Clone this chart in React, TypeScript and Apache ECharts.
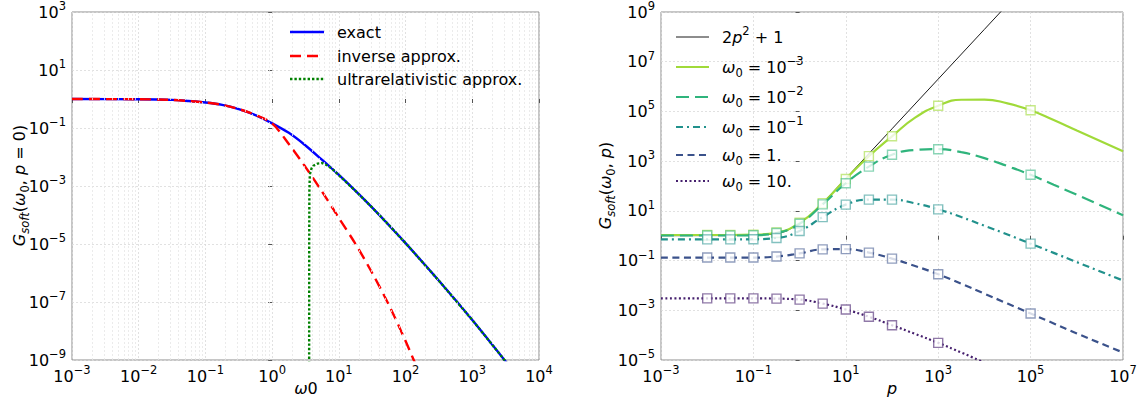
import React, { useEffect, useRef } from 'react';
import * as echarts from 'echarts';

const FONT = 'DejaVu Sans';

// ---------------- Left panel: G_soft(ω0, p = 0) ----------------
const leftXExponents = [-3, -2, -1, 0, 1, 2, 3, 4];
const leftYExponents = [-9, -7, -5, -3, -1, 1, 3];

const exactOmega = [1e-3, 1e-2, 0.0316, 0.0562, 0.1, 0.178, 0.316, 0.562, 1, 1.778, 3.162, 5.623, 10, 17.78, 31.62, 56.23, 100, 316.2, 1000, 3162, 3981];
const exactG = [1.0, 0.98, 0.93, 0.85, 0.76, 0.63, 0.45, 0.28, 0.145, 0.068, 0.025, 7.9e-3, 2.4e-3, 6.8e-4, 1.8e-4, 4.5e-5, 1.07e-5, 5.4e-7, 2.4e-8, 8.9e-10, 4.3e-10];

const inverseOmega = [1e-3, 1e-2, 0.0316, 0.0562, 0.1, 0.178, 0.316, 0.562, 1, 1.778, 3.162, 5.623, 10, 17.78, 31.62, 56.23, 100, 177.8];
const inverseG = [1.0, 0.98, 0.93, 0.85, 0.76, 0.63, 0.45, 0.28, 0.145, 0.028, 4.5e-3, 6.3e-4, 7.9e-5, 1.0e-5, 1.0e-6, 7.9e-8, 4.5e-9, 2.0e-10];

const ultraOmega = [3.581, 3.594, 3.614, 3.673, 3.89, 4.15, 4.786, 5.559, 6.761, 8.318, 10, 17.78, 31.62, 56.23, 100, 316.2, 1000, 3162, 3981];
const ultraG = [1e-12, 1e-5, 6.3e-4, 2.5e-3, 4.0e-3, 5.0e-3, 5.9e-3, 6.2e-3, 5.1e-3, 3.5e-3, 2.35e-3, 6.8e-4, 1.8e-4, 4.5e-5, 1.07e-5, 5.4e-7, 2.4e-8, 8.9e-10, 4.3e-10];

// ---------------- Right panel: G_soft(ω0, p) ----------------
const rightXExponents = [-3, -1, 1, 3, 5, 7];
const rightYExponents = [-5, -3, -1, 1, 3, 5, 7, 9];

const parabolaP = [1e-3, 0.1, 0.316, 0.5, 1, 1.5, 2, 3.162, 10, 100, 1000, 1e4, 1e5];
const parabolaG = [1, 1.02, 1.2, 1.5, 3, 5.5, 9, 21, 201, 20001, 2000001, 200000001, 2e10];

const pCurve = [1e-3, 1e-2, 0.0316, 0.1, 0.316, 1, 3.162, 10, 31.62, 100, 316.2, 1000, 3162, 1e4, 31623, 1e5, 316228, 1e6, 1e7];
const pMarkers = [1e-2, 0.0316, 0.1, 0.316, 1, 3.162, 10, 31.62, 100, 1000, 1e5];

const gOmega1em3 = [1.07, 1.07, 1.07, 1.1, 1.35, 3.31, 20.4, 190, 1585, 1.0e4, 5.6e4, 1.7e5, 2.95e5, 3.0e5, 2.1e5, 1.12e5, 4.5e4, 1.7e4, 2.5e3];
const gOmega1em2 = [1.02, 1.02, 1.02, 1.05, 1.29, 3.02, 18.2, 129, 602, 1820, 2818, 3020, 2291, 1318, 631, 282, 112, 44.7, 6.6];
const gOmega1em1 = [0.714, 0.714, 0.714, 0.724, 0.813, 1.55, 5.62, 17.8, 28.2, 28.2, 20.0, 11.5, 5.62, 2.51, 1.12, 0.479, 0.204, 0.087, 0.0158];
const gOmega1 = [0.132, 0.132, 0.132, 0.132, 0.145, 0.195, 0.282, 0.288, 0.209, 0.12, 0.0603, 0.0282, 0.0117, 4.68e-3, 1.86e-3, 7.41e-4, 2.95e-4, 1.17e-4, 2.0e-5];
const gOmega10 = [3.02e-3, 3.02e-3, 3.02e-3, 3.02e-3, 2.95e-3, 2.69e-3, 1.86e-3, 1.07e-3, 5.5e-4, 2.51e-4, 1.12e-4, 4.9e-5, 2.0e-5, 7.8e-6, null, null, null, null, null];

const MINUS = '\u2212';
const expStr = (v: number) => (v < 0 ? MINUS + Math.abs(v) : String(v));

const log = (v: number) => Math.log10(v);
const toXY = (xs: number[], ys: (number | null)[]) =>
  xs
    .map((x, i) => (ys[i] == null ? null : [log(x), log(ys[i] as number)]))
    .filter((d) => d !== null) as number[][];
const markersOf = (ys: (number | null)[]) =>
  pMarkers
    .map((p) => {
      const i = pCurve.indexOf(p);
      const y = ys[i];
      return y == null ? null : [log(p), log(y)];
    })
    .filter((d) => d !== null) as number[][];

const tickRich = {
  n: { fontSize: 16, fontFamily: FONT, color: '#000', lineHeight: 24, verticalAlign: 'middle' },
  s: { fontSize: 11.5, fontFamily: FONT, color: '#000', lineHeight: 12, verticalAlign: 'top' },
};
const tickFmt = (v: number) => `{n|10}{s|${expStr(v)}}`;

const textRich = {
  n: { fontSize: 16, fontFamily: FONT, color: '#000', lineHeight: 24, verticalAlign: 'middle' },
  i: { fontSize: 16, fontFamily: FONT, fontStyle: 'italic', color: '#000', lineHeight: 24, verticalAlign: 'middle' },
  s: { fontSize: 11.5, fontFamily: FONT, color: '#000', lineHeight: 12, verticalAlign: 'top' },
  b: { fontSize: 11.5, fontFamily: FONT, color: '#000', lineHeight: 12, verticalAlign: 'bottom' },
  bi: { fontSize: 11.5, fontFamily: FONT, fontStyle: 'italic', color: '#000', lineHeight: 12, verticalAlign: 'bottom' },
};

const GRID_COLOR = '#d9d9d9';
const SPINE = '#8c8c8c';

function makeXAxis(gridIndex: number, exps: number[], interval: number) {
  return {
    type: 'value',
    gridIndex,
    min: exps[0],
    max: exps[exps.length - 1],
    interval,
    axisLine: { show: false },
    axisTick: { show: true, length: 4, lineStyle: { color: '#555', width: 1 } },
    axisLabel: { formatter: tickFmt, rich: tickRich, margin: 4, showMinLabel: true, showMaxLabel: true },
    splitLine: { show: true, lineStyle: { color: GRID_COLOR, width: 0.8, type: [2, 2] } },
  };
}
function makeYAxis(gridIndex: number, exps: number[], interval: number) {
  return {
    type: 'value',
    gridIndex,
    min: exps[0],
    max: exps[exps.length - 1],
    interval,
    axisLine: { show: false },
    axisTick: { show: true, length: 4, lineStyle: { color: '#555', width: 1 } },
    axisLabel: { formatter: tickFmt, rich: tickRich, margin: 6, showMinLabel: true, showMaxLabel: true },
    splitLine: { show: true, lineStyle: { color: GRID_COLOR, width: 0.8, type: [2, 2] } },
  };
}

const minorX: number[] = [];
for (let e = leftXExponents[0]; e < leftXExponents[leftXExponents.length - 1]; e++) {
  for (let k = 2; k <= 9; k++) minorX.push(e + Math.log10(k));
}

const rightStyles = [
  { name: 'w3', ys: gOmega1em3, color: '#a0da39', edge: 'rgba(160,218,57,0.75)', dash: 'solid' as any, width: 2.2 },
  { name: 'w2', ys: gOmega1em2, color: '#2fb47c', edge: 'rgba(47,180,124,0.7)', dash: [13, 6], width: 2.2 },
  { name: 'w1', ys: gOmega1em1, color: '#21918c', edge: 'rgba(33,145,140,0.7)', dash: [7, 4, 2, 4], width: 2.2 },
  { name: 'w0', ys: gOmega1, color: '#3b528b', edge: 'rgba(59,82,139,0.7)', dash: [7, 4.5], width: 2.2 },
  { name: 'w10', ys: gOmega10, color: '#46206e', edge: 'rgba(70,32,110,0.75)', dash: [2, 2.5], width: 2.2 },
];

function buildOption() {
  const series: any[] = [];
  // minor grid (left panel)
  series.push({
    type: 'line',
    xAxisIndex: 0,
    yAxisIndex: 0,
    data: [],
    silent: true,
    z: 1,
    markLine: {
      silent: true,
      symbol: ['none', 'none'],
      label: { show: false },
      animation: false,
      lineStyle: { color: '#e6e6e6', width: 0.8, type: [2, 2] },
      data: minorX.map((v) => ({ xAxis: v })),
    },
  });
  series.push({
    type: 'line', xAxisIndex: 0, yAxisIndex: 0, data: toXY(exactOmega, exactG), symbol: 'none', smooth: 0.3,
    lineStyle: { color: '#0000ff', width: 2.4 }, z: 3,
  });
  series.push({
    type: 'line', xAxisIndex: 0, yAxisIndex: 0, data: toXY(inverseOmega, inverseG), symbol: 'none', smooth: 0.3,
    lineStyle: { color: '#ff0000', width: 2.4, type: [11, 6] }, z: 4,
  });
  series.push({
    type: 'line', xAxisIndex: 0, yAxisIndex: 0, data: toXY(ultraOmega, ultraG), symbol: 'none', smooth: false,
    lineStyle: { color: '#008000', width: 2.4, type: [2.4, 2] }, z: 5,
  });

  // right panel
  series.push({
    type: 'line', xAxisIndex: 1, yAxisIndex: 1, data: toXY(parabolaP, parabolaG), symbol: 'none', smooth: false,
    lineStyle: { color: '#1a1a1a', width: 1 }, z: 3,
  });
  rightStyles.forEach((s, k) => {
    series.push({
      type: 'line', xAxisIndex: 1, yAxisIndex: 1, data: toXY(pCurve, s.ys), symbol: 'none', smooth: 0.5,
      lineStyle: { color: s.color, width: s.width, type: s.dash }, z: 4 + k * 2,
    });
    series.push({
      type: 'scatter', xAxisIndex: 1, yAxisIndex: 1, data: markersOf(s.ys), symbol: 'rect', symbolSize: 9,
      itemStyle: { color: '#ffffff', borderColor: s.edge, borderWidth: 1.4 }, z: 5 + k * 2,
    });
  });

  const legendLeft = [
    { text: '{n|exact}', color: '#0000ff', dash: null, y: 32 },
    { text: '{n|inverse approx.}', color: '#ff0000', dash: [11, 6], y: 56 },
    { text: '{n|ultrarelativistic approx.}', color: '#008000', dash: [2.4, 2], y: 79 },
  ];
  const legendRight = [
    { text: '{n|2}{i|p}{s|2}{n| + 1}', color: '#1a1a1a', dash: null, y: 37, w: 1 },
    { text: `{i|ω}{b|0}{n| = 10}{s|${MINUS}3}`, color: rightStyles[0].color, dash: null, y: 67, w: 2.2 },
    { text: `{i|ω}{b|0}{n| = 10}{s|${MINUS}2}`, color: rightStyles[1].color, dash: rightStyles[1].dash, y: 97, w: 2.2 },
    { text: `{i|ω}{b|0}{n| = 10}{s|${MINUS}1}`, color: rightStyles[2].color, dash: rightStyles[2].dash, y: 127, w: 2.2 },
    { text: '{i|ω}{b|0}{n| = 1.}', color: rightStyles[3].color, dash: rightStyles[3].dash, y: 155, w: 2.2 },
    { text: '{i|ω}{b|0}{n| = 10.}', color: rightStyles[4].color, dash: rightStyles[4].dash, y: 181, w: 2.2 },
  ];

  const graphics: any[] = [];
  const txt = (x: number, y: number, text: string, align = 'left', rotation = 0) => ({
    type: 'text',
    x,
    y,
    rotation,
    silent: true,
    style: {
      text,
      rich: textRich,
      fill: '#000',
      font: `16px "${FONT}"`,
      align,
      textAlign: align,
      verticalAlign: 'middle',
      textVerticalAlign: 'middle',
    },
    z: 100,
  });
  legendLeft.forEach((l) => {
    graphics.push({
      type: 'line', silent: true, z: 100,
      shape: { x1: 290, y1: l.y, x2: 324, y2: l.y },
      style: { stroke: l.color, lineWidth: 2.4, lineDash: l.dash || undefined },
    });
    graphics.push(txt(337, l.y, l.text));
  });
  legendRight.forEach((l) => {
    graphics.push({
      type: 'line', silent: true, z: 100,
      shape: { x1: 676, y1: l.y, x2: 709, y2: l.y },
      style: { stroke: l.color, lineWidth: l.w, lineDash: l.dash || undefined },
    });
    graphics.push(txt(722, l.y, l.text));
  });
  // axis titles
  graphics.push(txt(306, 388, '{i|ω}{n|0}', 'center'));
  graphics.push(txt(892, 388, '{i|p}', 'center'));
  graphics.push(txt(19, 185.5, '{i|G}{bi|soft}{n|(}{i|ω}{b|0}{n|, }{i|p}{n| = 0)}', 'center', Math.PI / 2));
  graphics.push(txt(605, 185.5, '{i|G}{bi|soft}{n|(}{i|ω}{b|0}{n|, }{i|p}{n|)}', 'center', Math.PI / 2));

  return {
    animation: false,
    textStyle: { fontFamily: FONT },
    grid: [
      { left: 72, top: 11, width: 467, height: 349, show: true, borderColor: SPINE, borderWidth: 1, backgroundColor: 'transparent' },
      { left: 661, top: 11, width: 462, height: 349, show: true, borderColor: SPINE, borderWidth: 1, backgroundColor: 'transparent' },
    ],
    xAxis: [makeXAxis(0, leftXExponents, 1), makeXAxis(1, rightXExponents, 2)],
    yAxis: [makeYAxis(0, leftYExponents, 2), makeYAxis(1, rightYExponents, 2)],
    series,
    graphic: graphics,
  };
}

export default function App() {
  const ref = useRef<HTMLDivElement>(null);
  useEffect(() => {
    if (!ref.current) return;
    const chart = echarts.init(ref.current, undefined, { renderer: 'svg' });
    chart.setOption(buildOption() as any);
    return () => chart.dispose();
  }, []);
  return (
    <div
      ref={ref}
      style={{ position: 'absolute', left: 0, top: 0, width: 1145, height: 408, background: '#fff' }}
    />
  );
}
